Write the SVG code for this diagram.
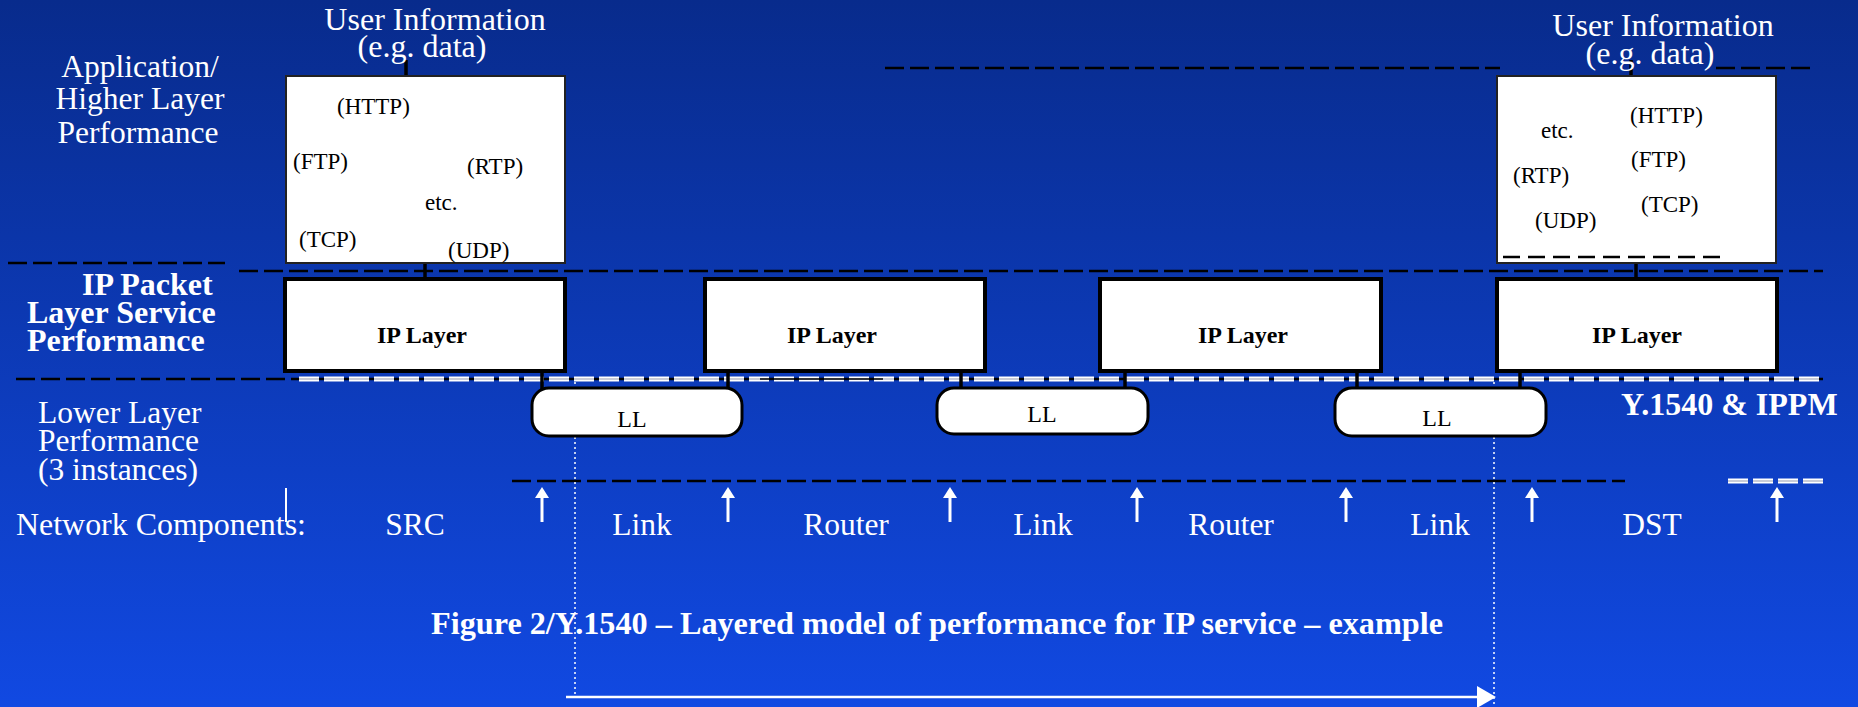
<svg xmlns="http://www.w3.org/2000/svg" width="1858" height="707" viewBox="0 0 1858 707">
<defs>
<linearGradient id="bg" x1="0" y1="0" x2="0" y2="1">
<stop offset="0" stop-color="#082b8c"/>
<stop offset="1" stop-color="#1149e2"/>
</linearGradient>
<style>
.t{font-family:"Liberation Serif","Times New Roman",serif;}
.lbl{font-size:31.5px;fill:#fff;}
.blbl{font-size:32px;font-weight:bold;fill:#fff;}
.proto{font-size:23px;fill:#000;}
.ip{font-size:24px;font-weight:bold;fill:#000;text-anchor:middle;}
.ll{font-size:24px;fill:#000;text-anchor:middle;}
.net{font-size:31.5px;fill:#fff;}
.mid{text-anchor:middle;}
.appbox{fill:#fff;stroke:#222;stroke-width:2;}
.ipbox{fill:#fff;stroke:#000;stroke-width:4;}
.llbox{fill:#fff;stroke:#000;stroke-width:3;}
.conn{stroke:#000;stroke-width:3.5;fill:none;}
.dash{stroke:#000;stroke-width:2.5;stroke-dasharray:19 6;fill:none;}
.wd{stroke:#fff;stroke-width:5;stroke-dasharray:20 5;fill:none;}
.wdi{stroke:#b8bccc;stroke-width:1.3;stroke-dasharray:20 5;fill:none;}
.dot{stroke:#fff;stroke-width:1.5;stroke-dasharray:2 3;fill:none;}
.wl{stroke:#fff;stroke-width:3;fill:none;}
</style>
</defs>
<rect x="0" y="0" width="1858" height="707" fill="url(#bg)"/>

<g id="labels" class="t">
<text class="lbl mid" x="140" y="77">Application/</text>
<text class="lbl mid" x="140" y="109">Higher Layer</text>
<text class="lbl mid" x="138" y="143">Performance</text>
<text class="blbl" x="82" y="295">IP Packet</text>
<text class="blbl" x="27" y="323">Layer Service</text>
<text class="blbl" x="27" y="351">Performance</text>
<text class="lbl" x="38" y="423">Lower Layer</text>
<text class="lbl" x="38" y="451">Performance</text>
<text class="lbl" x="38" y="480">(3 instances)</text>
<text class="blbl" x="1621" y="415">Y.1540 &amp; IPPM</text>
</g>

<g id="connectors">
<line class="dash" x1="885" y1="68" x2="1500" y2="68"/>
<line class="dash" x1="1716" y1="68" x2="1810" y2="68"/>
<line class="dash" x1="8" y1="263" x2="225" y2="263"/>
<line class="dash" x1="239" y1="271" x2="1823" y2="271"/>
<line class="dash" x1="16" y1="379" x2="1823" y2="379"/>
<line class="wd" x1="299" y1="379" x2="1823" y2="379"/>
<line class="wdi" x1="299" y1="379" x2="1823" y2="379"/>
<line x1="760" y1="379" x2="883" y2="379" stroke="#000" stroke-width="1.5" stroke-dasharray="20 5" stroke-dashoffset="11"/>
<line class="dash" x1="512" y1="481" x2="1625" y2="481"/>
<line class="wd" x1="1728" y1="481" x2="1824" y2="481"/>
<line class="wdi" x1="1728" y1="481" x2="1824" y2="481"/>
<line class="conn" x1="406" y1="60" x2="406" y2="77"/>
<line class="conn" x1="425" y1="263" x2="425" y2="278"/>
<line class="conn" x1="1631" y1="60" x2="1631" y2="77"/>
<line class="conn" x1="1636" y1="263" x2="1636" y2="278"/>
<line class="conn" x1="542" y1="372" x2="542" y2="389"/>
<line class="conn" x1="728" y1="372" x2="728" y2="389"/>
<line class="conn" x1="961" y1="372" x2="961" y2="389"/>
<line class="conn" x1="1125" y1="372" x2="1125" y2="389"/>
<line class="conn" x1="1357" y1="372" x2="1357" y2="389"/>
<line class="conn" x1="1520" y1="372" x2="1520" y2="389"/>
<line class="dot" x1="575" y1="382" x2="575" y2="697"/>
<line class="dot" x1="1494" y1="382" x2="1494" y2="707"/>
<line x1="286" y1="488" x2="286" y2="522" stroke="#fff" stroke-width="2"/>
<g fill="#fff">
<line class="wl" x1="542" y1="522" x2="542" y2="495"/><polygon points="535,498 542,487 549,498"/>
<line class="wl" x1="728" y1="522" x2="728" y2="495"/><polygon points="721,498 728,487 735,498"/>
<line class="wl" x1="950" y1="522" x2="950" y2="495"/><polygon points="943,498 950,487 957,498"/>
<line class="wl" x1="1137" y1="522" x2="1137" y2="495"/><polygon points="1130,498 1137,487 1144,498"/>
<line class="wl" x1="1346" y1="522" x2="1346" y2="495"/><polygon points="1339,498 1346,487 1353,498"/>
<line class="wl" x1="1532" y1="522" x2="1532" y2="495"/><polygon points="1525,498 1532,487 1539,498"/>
<line class="wl" x1="1777" y1="522" x2="1777" y2="495"/><polygon points="1770,498 1777,487 1784,498"/>
</g>
<line x1="566" y1="697" x2="1480" y2="697" stroke="#fff" stroke-width="2.5"/>
<polygon points="1477,686 1496,697 1477,708" fill="#fff"/>
</g>

<g id="user-info-left" class="t">
<text class="lbl mid" x="435" y="30" style="font-size:32px">User Information</text>
<text class="lbl mid" x="422" y="57" style="font-size:32px">(e.g. data)</text>
</g>
<g id="user-info-right" class="t">
<text class="lbl mid" x="1663" y="36" style="font-size:32px">User Information</text>
<text class="lbl mid" x="1650" y="64" style="font-size:32px">(e.g. data)</text>
</g>

<g id="app-left" class="t">
<rect class="appbox" x="286" y="76" width="279" height="187"/>
<text class="proto" x="337" y="114">(HTTP)</text>
<text class="proto" x="293" y="169">(FTP)</text>
<text class="proto" x="467" y="174">(RTP)</text>
<text class="proto" x="425" y="210">etc.</text>
<text class="proto" x="299" y="247">(TCP)</text>
<text class="proto" x="448" y="258">(UDP)</text>
</g>

<g id="app-right" class="t">
<rect class="appbox" x="1497" y="76" width="279" height="187"/>
<text class="proto" x="1630" y="123">(HTTP)</text>
<text class="proto" x="1541" y="138">etc.</text>
<text class="proto" x="1631" y="167">(FTP)</text>
<text class="proto" x="1513" y="183">(RTP)</text>
<text class="proto" x="1641" y="212">(TCP)</text>
<text class="proto" x="1535" y="228">(UDP)</text>
<line x1="1503" y1="257" x2="1722" y2="257" stroke="#000" stroke-width="2.5" stroke-dasharray="17 8"/>
</g>

<g id="ip1" class="t">
<rect class="ipbox" x="285" y="279" width="280" height="92"/>
<text class="ip" x="422" y="343">IP Layer</text>
</g>
<g id="ip2" class="t">
<rect class="ipbox" x="705" y="279" width="280" height="92"/>
<text class="ip" x="832" y="343">IP Layer</text>
</g>
<g id="ip3" class="t">
<rect class="ipbox" x="1100" y="279" width="281" height="92"/>
<text class="ip" x="1243" y="343">IP Layer</text>
</g>
<g id="ip4" class="t">
<rect class="ipbox" x="1497" y="279" width="280" height="92"/>
<text class="ip" x="1637" y="343">IP Layer</text>
</g>

<g id="ll1" class="t">
<rect class="llbox" x="532" y="388" width="210" height="48" rx="17"/>
<text class="ll" x="632" y="427">LL</text>
</g>
<g id="ll2" class="t">
<rect class="llbox" x="937" y="388" width="211" height="46" rx="17"/>
<text class="ll" x="1042" y="422">LL</text>
</g>
<g id="ll3" class="t">
<rect class="llbox" x="1335" y="388" width="211" height="48" rx="17"/>
<text class="ll" x="1437" y="426">LL</text>
</g>

<g id="network" class="t">
<text class="net" x="16" y="535" textLength="290" lengthAdjust="spacingAndGlyphs">Network Components:</text>
<text class="net mid" x="415" y="535">SRC</text>
<text class="net mid" x="642" y="535">Link</text>
<text class="net mid" x="846" y="535">Router</text>
<text class="net mid" x="1043" y="535">Link</text>
<text class="net mid" x="1231" y="535">Router</text>
<text class="net mid" x="1440" y="535">Link</text>
<text class="net mid" x="1652" y="535">DST</text>
</g>

<g id="caption" class="t">
<text x="431" y="634" style="font-size:31px;font-weight:bold;fill:#fff" textLength="1012" lengthAdjust="spacingAndGlyphs">Figure 2/Y.1540 – Layered model of performance for IP service – example</text>
</g>
</svg>
